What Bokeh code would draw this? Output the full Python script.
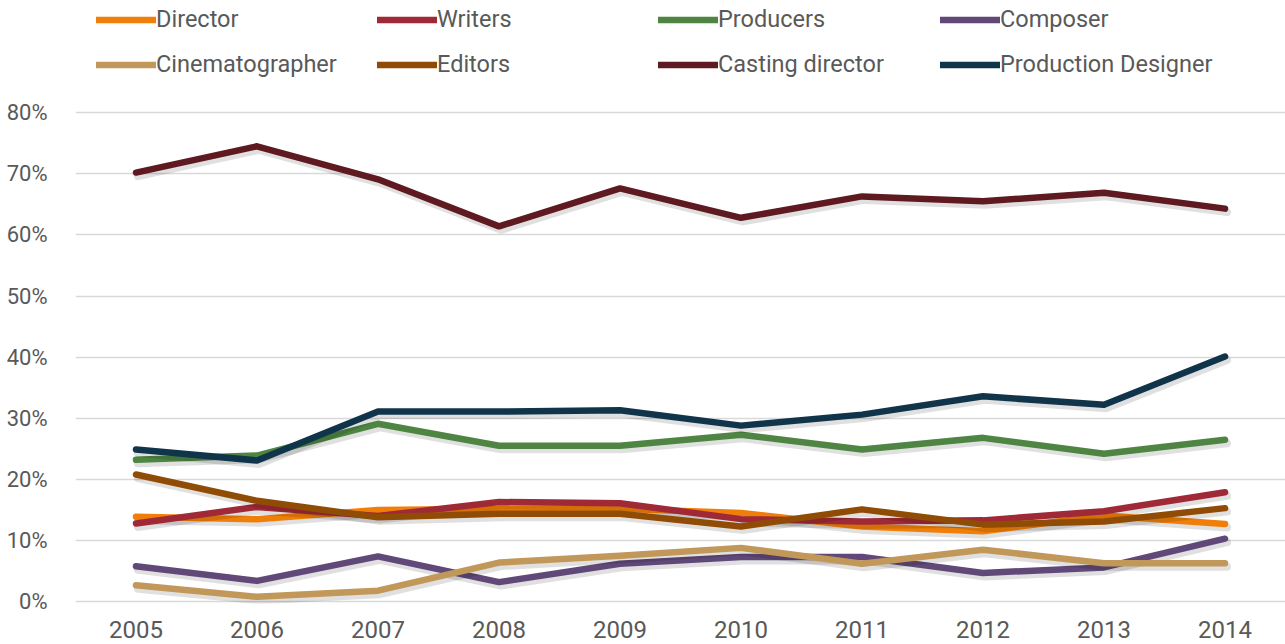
from bokeh.plotting import figure
from bokeh.models import Range1d, FixedTicker, Legend, LegendItem
from bokeh.embed import file_html
from bokeh.resources import INLINE

years = [2005, 2006, 2007, 2008, 2009, 2010, 2011, 2012, 2013, 2014]
year_labels = ["2005", "2006", "2007", "2008", "2009", "2010", "2011", "2012", "2013", "2014"]
pct_ticks = [0, 10, 20, 30, 40, 50, 60, 70, 80]
pct_labels = ["0%", "10%", "20%", "30%", "40%", "50%", "60%", "70%", "80%"]

director = [13.9, 13.5, 15.0, 15.2, 15.2, 14.5, 12.3, 11.5, 14.1, 12.7]
writers = [12.8, 15.5, 14.0, 16.3, 16.1, 13.5, 13.1, 13.3, 14.8, 17.9]
producers = [23.2, 23.9, 29.1, 25.5, 25.5, 27.3, 24.9, 26.8, 24.2, 26.5]
composer = [5.8, 3.4, 7.4, 3.2, 6.2, 7.3, 7.3, 4.7, 5.6, 10.3]
cinematographer = [2.7, 0.8, 1.8, 6.4, 7.5, 8.8, 6.2, 8.5, 6.3, 6.3]
editors = [20.8, 16.5, 13.8, 14.4, 14.4, 12.3, 15.1, 12.6, 13.1, 15.3]
casting = [70.2, 74.5, 69.1, 61.4, 67.6, 62.8, 66.3, 65.5, 66.9, 64.3]
prod_designer = [24.9, 23.1, 31.1, 31.1, 31.3, 28.8, 30.6, 33.6, 32.2, 40.1]

names = ["Director", "Writers", "Producers", "Composer",
         "Cinematographer", "Editors", "Casting director", "Production Designer"]
series = [director, writers, producers, composer,
          cinematographer, editors, casting, prod_designer]
colors = ["#F07F09", "#9F2936", "#4E8542", "#604878",
          "#C19859", "#904C05", "#5F1920", "#10354A"]

W, H = 1285, 644
BL, BB = 75, 41
Y0, Y1 = -0.3, 98.35
p = figure(width=W, height=H, output_backend="svg", toolbar_location=None,
           x_range=Range1d(2004.5, 2014.5), y_range=Range1d(Y0, Y1),
           min_border_left=BL, min_border_right=0, min_border_top=0,
           min_border_bottom=BB)
p.outline_line_color = None
p.background_fill_color = "white"
p.border_fill_color = "white"

p.xgrid.grid_line_color = None
p.ygrid.grid_line_color = "#D9D9D9"
p.ygrid.grid_line_width = 1.5
p.ygrid.ticker = FixedTicker(ticks=pct_ticks)

for ax in (p.xaxis[0], p.yaxis[0]):
    ax.axis_line_color = None
    ax.major_tick_line_color = None
    ax.minor_tick_line_color = None
    ax.major_label_text_color = "#595959"
    ax.major_label_text_font = "Roboto"

p.xaxis.ticker = FixedTicker(ticks=years)
p.xaxis.major_label_overrides = {y: s for y, s in zip(years, year_labels)}
p.xaxis.major_label_text_font_size = "24px"
p.xaxis.major_label_standoff = 11

p.yaxis.ticker = FixedTicker(ticks=pct_ticks)
p.yaxis.major_label_overrides = {t: s for t, s in zip(pct_ticks, pct_labels)}
p.yaxis.major_label_text_font_size = "22px"
p.yaxis.major_label_standoff = 22

# pixel scale used for drop shadow offsets
FH = H - BB
px_x = (W - BL) / 10.0
px_y = FH / (Y1 - Y0)
dx = 2.0 / px_x
dy = 3.5 / px_y

renderers = []
for vals, col in zip(series, colors):
    p.line([x + dx for x in years], [v - dy for v in vals], line_color="#000000",
           line_alpha=0.12, line_width=8, line_cap="round", line_join="round")
    r = p.line(years, vals, line_color=col, line_width=6.5,
               line_cap="round", line_join="round")
    renderers.append(r)

col_x = [21, 302, 583, 865]
LEG_H = 27 * 2 + 17
for c in range(4):
    items = [LegendItem(label=names[c], renderers=[renderers[c]]),
             LegendItem(label=names[c + 4], renderers=[renderers[c + 4]])]
    lg = Legend(items=items, location=(col_x[c], FH - LEG_H - 7),
                orientation="vertical", padding=0, margin=0, spacing=17,
                glyph_width=60, glyph_height=27, label_height=27,
                label_standoff=0, border_line_alpha=0,
                background_fill_alpha=0,
                label_text_font="Roboto", label_text_font_size="23.5px",
                label_text_color="#595959")
    p.add_layout(lg, "center")

open("out.html", "w").write(file_html(p, INLINE))
